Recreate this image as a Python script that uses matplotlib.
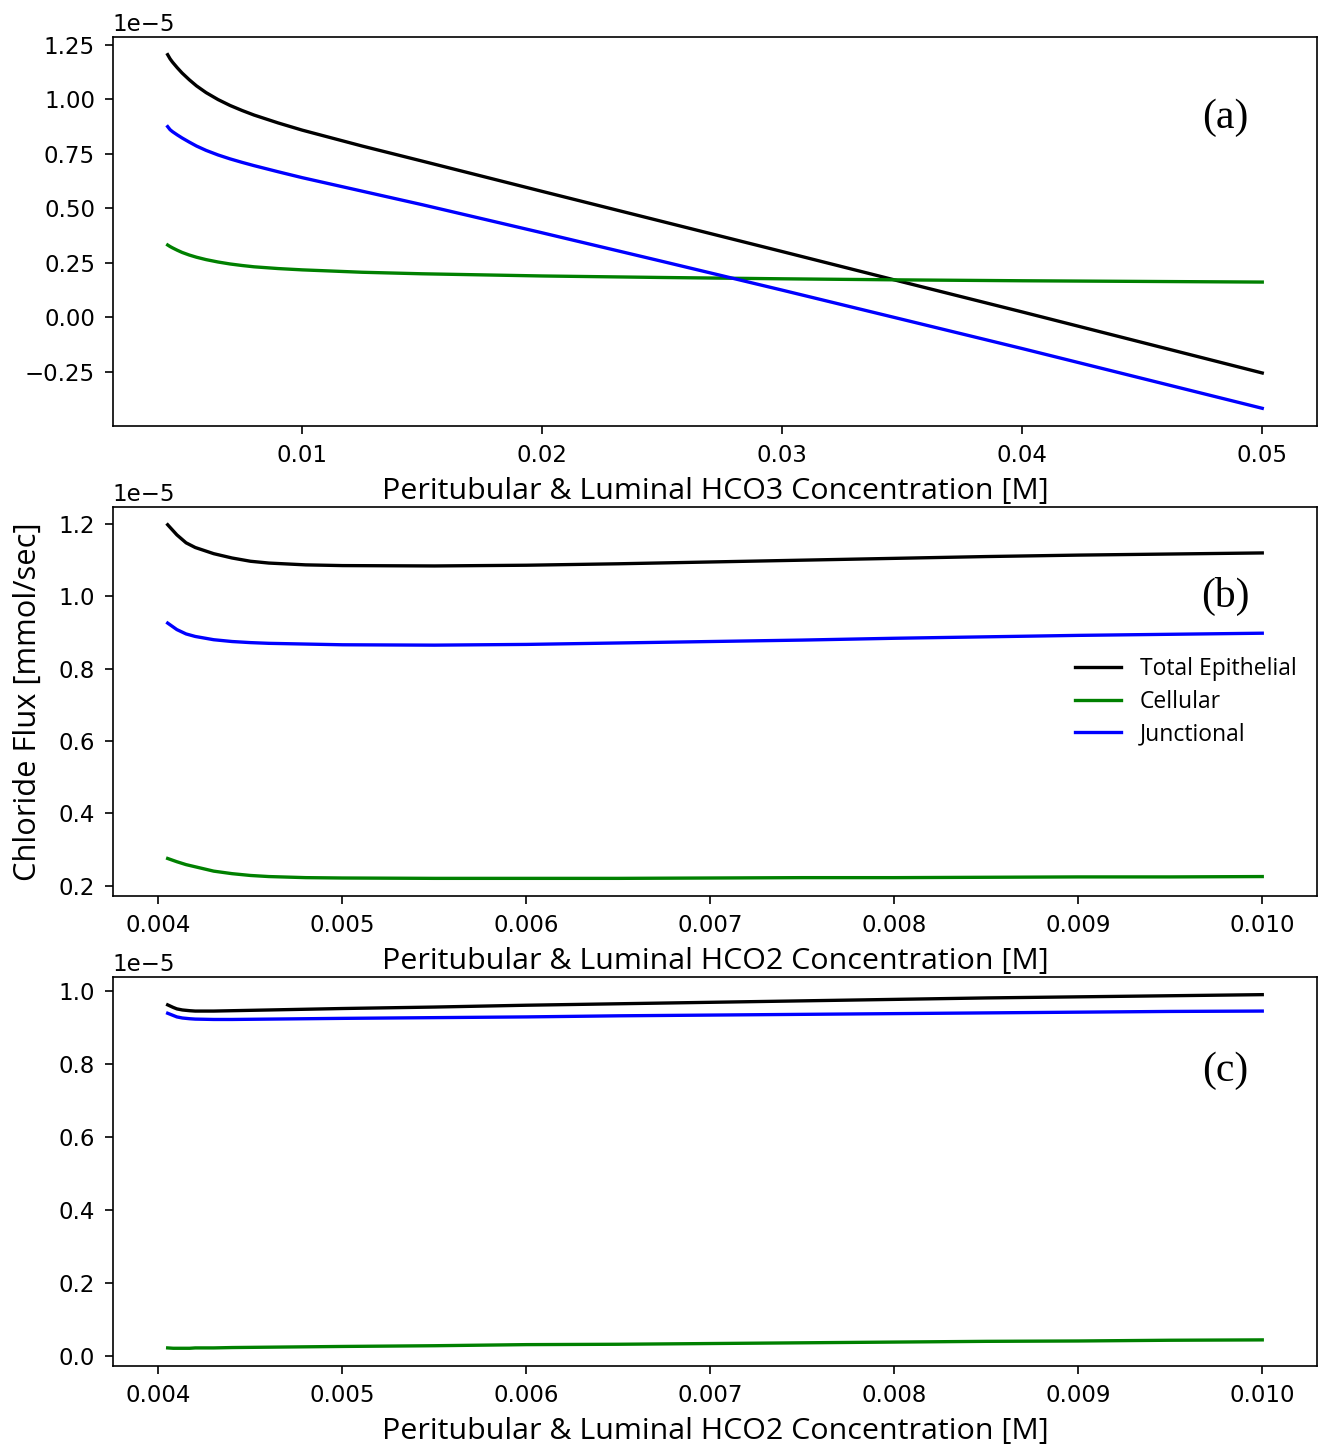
import matplotlib
matplotlib.use("Agg")
import matplotlib.pyplot as plt

# ---------------- data ----------------
# Panel (a): HCO3 concentration sweep
conc_a = [0.0044, 0.0045, 0.0046, 0.0048, 0.0050, 0.0053, 0.0056, 0.0060, 0.0065,
          0.0070, 0.0075, 0.0080, 0.0090, 0.0100, 0.0125, 0.015, 0.020, 0.025,
          0.030, 0.035, 0.040, 0.045, 0.050]
total_a = [1.205, 1.186, 1.171, 1.145, 1.121, 1.090, 1.062, 1.031, 0.999,
           0.972, 0.949, 0.928, 0.892, 0.859, 0.786, 0.717, 0.578, 0.440,
           0.302, 0.163, 0.025, -0.115, -0.255]
cell_a = [0.332, 0.325, 0.319, 0.308, 0.298, 0.286, 0.276, 0.265, 0.254,
          0.245, 0.238, 0.232, 0.224, 0.218, 0.207, 0.200, 0.190, 0.183,
          0.177, 0.172, 0.168, 0.165, 0.162]
junc_a = [0.875, 0.861, 0.852, 0.837, 0.823, 0.804, 0.786, 0.766, 0.745,
          0.727, 0.711, 0.696, 0.668, 0.641, 0.579, 0.517, 0.388, 0.257,
          0.125, -0.009, -0.143, -0.280, -0.417]

# Panel (b): HCO2 concentration sweep
conc_b = [0.00405, 0.0041, 0.00415, 0.0042, 0.0043, 0.0044, 0.0045, 0.0046, 0.0048,
          0.0050, 0.0055, 0.0060, 0.0065, 0.0070, 0.0075, 0.0080, 0.0085, 0.0090,
          0.0095, 0.0100]
total_b = [1.198, 1.170, 1.148, 1.135, 1.118, 1.106, 1.097, 1.092, 1.087,
           1.085, 1.084, 1.086, 1.090, 1.095, 1.100, 1.105, 1.110, 1.114,
           1.117, 1.120]
cell_b = [0.275, 0.266, 0.258, 0.252, 0.240, 0.233, 0.228, 0.225, 0.222,
          0.221, 0.220, 0.220, 0.220, 0.221, 0.222, 0.222, 0.223, 0.224,
          0.224, 0.225]
junc_b = [0.926, 0.908, 0.896, 0.889, 0.880, 0.875, 0.872, 0.870, 0.868,
          0.866, 0.865, 0.867, 0.871, 0.875, 0.879, 0.884, 0.888, 0.892,
          0.895, 0.898]

# Panel (c): HCO2 concentration sweep
conc_c = [0.00405, 0.00408, 0.0041, 0.00413, 0.00417, 0.0042, 0.0043, 0.0044, 0.0046,
          0.0050, 0.0055, 0.0060, 0.0065, 0.0070, 0.0075, 0.0080, 0.0085, 0.0090,
          0.0095, 0.0100]
total_c = [0.963, 0.956, 0.952, 0.949, 0.947, 0.946, 0.946, 0.947, 0.949,
           0.953, 0.957, 0.962, 0.966, 0.970, 0.974, 0.978, 0.982, 0.985,
           0.988, 0.991]
cell_c = [0.023, 0.022, 0.022, 0.022, 0.022, 0.023, 0.023, 0.024, 0.025,
          0.027, 0.029, 0.032, 0.033, 0.035, 0.037, 0.039, 0.041, 0.042,
          0.044, 0.045]
junc_c = [0.940, 0.934, 0.930, 0.927, 0.925, 0.924, 0.923, 0.923, 0.924,
          0.926, 0.928, 0.930, 0.933, 0.935, 0.937, 0.939, 0.941, 0.943,
          0.945, 0.946]

scale = 1e-5
series_labels = ["Total Epithelial", "Cellular", "Junctional"]
series_colors = ["black", "green", "blue"]
panel_tags = ["(a)", "(b)", "(c)"]
xlabels = ["Peritubular & Luminal HCO3 Concentration [M]",
           "Peritubular & Luminal HCO2 Concentration [M]",
           "Peritubular & Luminal HCO2 Concentration [M]"]
ylabel = "Chloride Flux [mmol/sec]"

# ---------------- figure ----------------
DPI = 150
fig = plt.figure(figsize=(1324 / DPI, 1445 / DPI), dpi=DPI)

left, width, height = 0.0853, 0.9094, 0.2692
bottoms = [0.7052, 0.3799, 0.0547]
tag_y = [0.792, 0.771, 0.758]

panels = [
    (conc_a, [total_a, cell_a, junc_a]),
    (conc_b, [total_b, cell_b, junc_b]),
    (conc_c, [total_c, cell_c, junc_c]),
]

label_font = "Open Sans"
axes = []
for i, (x, ys) in enumerate(panels):
    ax = fig.add_axes([left, bottoms[i], width, height])
    for y, lab, col in zip(ys, series_labels, series_colors):
        ax.plot(x, [v * scale for v in y], color=col, lw=1.6, label=lab,
                solid_joinstyle="round")
    ax.tick_params(labelsize=11, length=3.8, pad=4.8)
    ax.yaxis.get_offset_text().set_fontsize(11)
    ax.set_xlabel(xlabels[i], fontsize=14.6, family=label_font, labelpad=5)
    ax.text(0.924, tag_y[i], panel_tags[i], transform=ax.transAxes,
            family="Liberation Serif", fontsize=20, ha="center", va="center")
    axes.append(ax)

axes[0].set_xticks([0.01, 0.02, 0.03, 0.04, 0.05])
for ax in axes[1:]:
    ax.set_xticks([0.004, 0.005, 0.006, 0.007, 0.008, 0.009, 0.010])
    ax.set_xticklabels(["0.004", "0.005", "0.006", "0.007", "0.008", "0.009", "0.010"])

axes[1].set_ylabel(ylabel, fontsize=14.8, family=label_font, labelpad=7.5)
axes[1].legend(loc="center right", frameon=False, labelspacing=0.38,
               prop={"family": label_font, "size": 11})

fig.savefig("out.png", dpi=DPI)
